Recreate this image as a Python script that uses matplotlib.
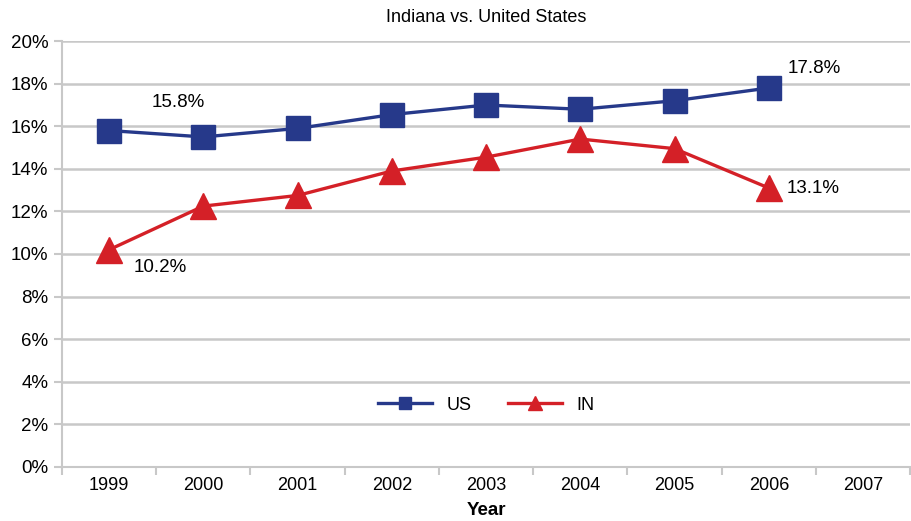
import matplotlib.pyplot as plt
from matplotlib.ticker import FixedLocator

plt.rcParams['font.family'] = ['Liberation Sans Narrow', 'DejaVu Sans Condensed',
                               'Liberation Sans', 'DejaVu Sans']

# data
years = ['1999', '2000', '2001', '2002', '2003', '2004', '2005', '2006', '2007']
us = [15.8, 15.5, 15.9, 16.55, 17.0, 16.8, 17.2, 17.8]
ind = [10.2, 12.25, 12.75, 13.9, 14.55, 15.4, 14.95, 13.1]
yticks = [0, 2, 4, 6, 8, 10, 12, 14, 16, 18, 20]

navy = '#26398a'
red = '#d42027'
grid = '#c8c8c8'

fig = plt.figure(figsize=(9.12, 5.21), dpi=100)
ax = fig.add_axes([0.068, 0.104, 0.93, 0.817])

x_us = list(range(len(us)))
x_in = list(range(len(ind)))
ax.plot(x_us, us, color=navy, lw=2.4, marker='s', ms=17, label='US', zorder=3)
ax.plot(x_in, ind, color=red, lw=2.4, marker='^', ms=19, label='IN', zorder=3)

# labels for first and last points
ax.annotate('15.8%', (x_us[0], us[0]), xytext=(50, 20), textcoords='offset points',
            ha='center', va='center', fontsize=13.5)
ax.annotate('17.8%', (x_us[-1], us[-1]), xytext=(33, 14), textcoords='offset points',
            ha='center', va='center', fontsize=13.5)
ax.annotate('10.2%', (x_in[0], ind[0]), xytext=(37, -13), textcoords='offset points',
            ha='center', va='center', fontsize=13.5)
ax.annotate('13.1%', (x_in[-1], ind[-1]), xytext=(32, 0), textcoords='offset points',
            ha='center', va='center', fontsize=13.5)

ax.set_xlim(-0.5, len(years) - 0.5)
ax.set_ylim(0, 20)
ax.set_yticks(yticks)
ax.set_yticklabels([f'{v}%' for v in yticks], fontsize=13.5)
ax.set_xticks(range(len(years)))
ax.set_xticklabels(years, fontsize=13)
ax.tick_params(axis='x', which='major', length=0, pad=7)
ax.xaxis.set_minor_locator(FixedLocator([i - 0.5 for i in range(len(years) + 1)]))
ax.tick_params(axis='x', which='minor', length=6, color=grid, width=1.5)
ax.tick_params(axis='y', length=6, color=grid, width=1.5, pad=4)

ax.grid(axis='y', color=grid, lw=1.8, zorder=0)
for s in ['top', 'right']:
    ax.spines[s].set_visible(False)
ax.spines['left'].set_color(grid)
ax.spines['left'].set_linewidth(1.5)
ax.spines['bottom'].set_color(grid)
ax.spines['bottom'].set_linewidth(1.5)

ax.set_title('Indiana vs. United States', fontsize=13, pad=14)
ax.set_xlabel('Year', fontsize=13.5, fontweight='bold', labelpad=6)

leg = ax.legend(loc='center', bbox_to_anchor=(0.5, 0.145), ncol=2, frameon=False,
                fontsize=13, markerscale=0.55, handlelength=3.0, columnspacing=2.0)

fig.savefig('out.png', dpi=100)
